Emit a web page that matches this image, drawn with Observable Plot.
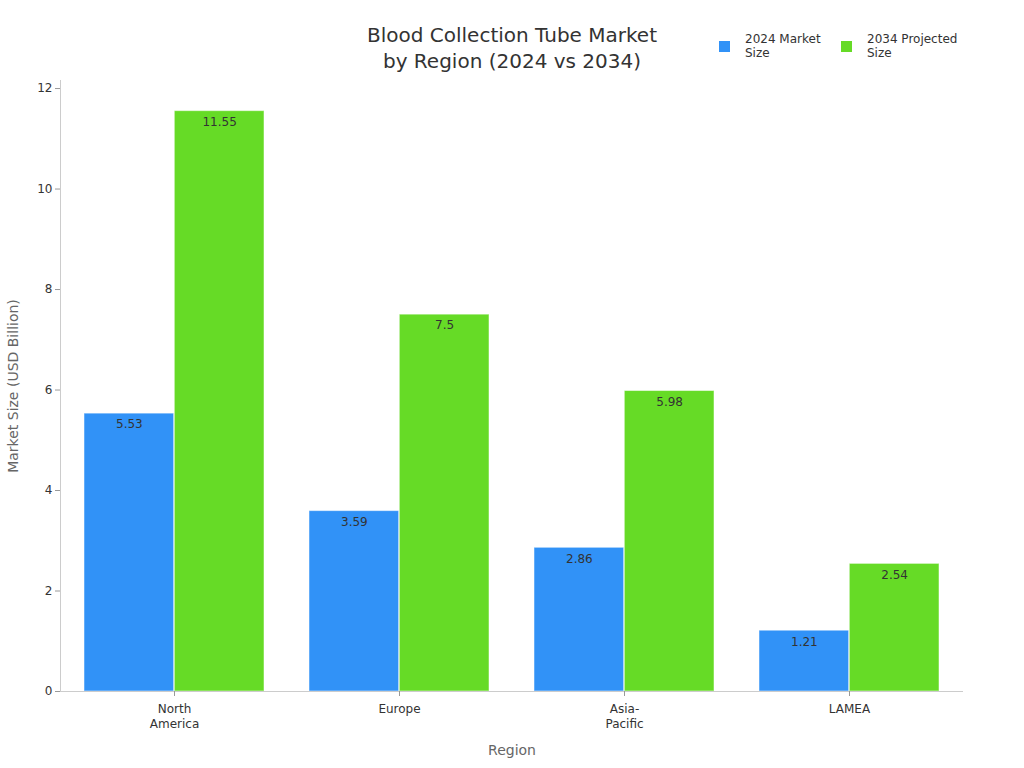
<!DOCTYPE html>
<html>
<head>
<meta charset="utf-8">
<script src="https://cdn.jsdelivr.net/npm/d3@7"></script>
<script src="https://cdn.jsdelivr.net/npm/@observablehq/plot@0.6"></script>
<style>
  body { margin: 0; background: #fff; font-family: "DejaVu Sans", sans-serif; }
  #wrap { position: relative; width: 1024px; height: 768px; }
  .item { position: absolute; display: flex; align-items: center; }
  .sw { width: 11px; height: 11px; margin-right: 15px; }
  .lt { line-height: 14px; white-space: pre; }
</style>
</head>
<body>
<div id="wrap"></div>
<script>
const regions = ["North America", "Europe", "Asia-Pacific", "LAMEA"];
const regionLabels = ["North\nAmerica", "Europe", "Asia-\nPacific", "LAMEA"];
const series = ["2024 Market Size", "2034 Projected Size"];
const seriesLabels = ["2024 Market\nSize", "2034 Projected\nSize"];
const values2024 = [5.53, 3.59, 2.86, 1.21];
const values2034 = [11.55, 7.5, 5.98, 2.54];
const colors = ["#3192f7", "#66db26"];
const yTicks = [0, 2, 4, 6, 8, 10, 12];
const title = "Blood Collection Tube Market\nby Region (2024 vs 2034)";
const xLabel = "Region";
const yLabel = "Market Size (USD Billion)";

const W = 1024, H = 768, ML = 60, MR = 61, MT = 80, MB = 77;
const pInner = 0.2, pOuter = 0.1;
const step = (W - ML - MR) / (regions.length - pInner + 2 * pOuter);
const half = step * (1 - pInner) / 2;

const d24 = regions.map((r, i) => ({region: r, value: values2024[i]}));
const d34 = regions.map((r, i) => ({region: r, value: values2034[i]}));

const chart = Plot.plot({
  width: W, height: H,
  marginLeft: ML, marginRight: MR, marginTop: MT, marginBottom: MB,
  style: {fontFamily: "DejaVu Sans, sans-serif", fontSize: "12px", background: "white", color: "#333"},
  x: {domain: regions, paddingInner: pInner, paddingOuter: pOuter, axis: null},
  y: {domain: [0, 12.16], axis: null},
  marks: [
    Plot.barY(d24, {x: "region", y: "value", fill: colors[0], insetRight: half, stroke: "white", strokeOpacity: 0.5, strokeWidth: 1}),
    Plot.barY(d34, {x: "region", y: "value", fill: colors[1], insetLeft: half, stroke: "white", strokeOpacity: 0.5, strokeWidth: 1}),
    Plot.text(d24, {x: "region", y: "value", text: d => String(d.value), dx: -half / 2, dy: 11, fill: "#333", fontSize: 12}),
    Plot.text(d34, {x: "region", y: "value", text: d => String(d.value), dx: half / 2, dy: 11, fill: "#333", fontSize: 12}),
    Plot.frame({anchor: "left", stroke: "#ccc"}),
    Plot.ruleY([0], {stroke: "#ccc"}),
    Plot.axisY({ticks: yTicks, tickSize: 5, tickPadding: 3, stroke: "#999", fill: "#333", fontSize: 12, label: null}),
    Plot.axisX({tickFormat: d => regionLabels[regions.indexOf(d)], tickSize: 5, tickPadding: 6, stroke: "#999", fill: "#333", fontSize: 12, lineHeight: 1.25, label: null}),
    Plot.text([xLabel], {frameAnchor: "bottom", lineAnchor: "middle", dy: 59, fill: "#666", fontSize: 14}),
    Plot.text([yLabel], {frameAnchor: "left", textAnchor: "middle", lineAnchor: "middle", rotate: -90, dx: -47, fill: "#666", fontSize: 14}),
    Plot.text([title], {frameAnchor: "top", lineAnchor: "middle", dy: -34, fill: "#333", fontSize: 20, lineHeight: 1.3})
  ]
});

const wrap = document.getElementById("wrap");
wrap.appendChild(chart);

const legendX = [719, 841];
series.forEach((s, i) => {
  const item = document.createElement("div");
  item.className = "item";
  item.style.left = legendX[i] + "px";
  item.style.top = "32px";
  item.style.fontSize = "12px";
  item.style.color = "#333";
  const sw = document.createElement("div");
  sw.className = "sw";
  sw.style.background = colors[i];
  const lt = document.createElement("div");
  lt.className = "lt";
  lt.textContent = seriesLabels[i];
  item.appendChild(sw);
  item.appendChild(lt);
  wrap.appendChild(item);
});
</script>
</body>
</html>
